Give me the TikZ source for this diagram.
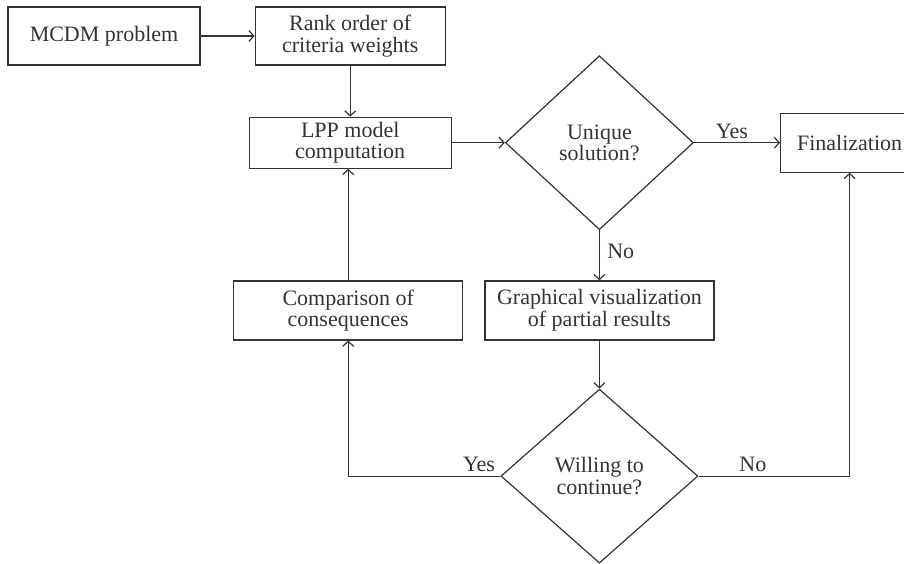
\documentclass[tikz,border=0pt]{standalone}
\usepackage{fontspec}
\setmainfont{Liberation Serif}
\usetikzlibrary{positioning,shapes.geometric,arrows.meta}
\definecolor{traco}{RGB}{51,51,51}
\tikzstyle{caixa} = [rectangle, minimum height=58pt, text centered, align=center, draw=traco, inner sep=0pt]
\tikzstyle{decisao} = [diamond, minimum height=174pt, text centered, align=center, draw=traco, inner sep=0pt]
\tikzstyle{seta} = [draw=traco, ->, >={Straight Barb[length=5pt,width=11pt]}]

\begin{document}
\begin{tikzpicture}[x=1pt, y=1pt, line width=1.2pt, text=traco, font=\fontsize{22}{21.5}\selectfont]
        \useasboundingbox (0,0) rectangle (904,-563);
        % Linha de cima
        \node (mcdm) [caixa, minimum width=192pt] at (104,-36) {MCDM problem};
        \node (rank) [caixa, minimum width=190pt, right=54pt of mcdm] {Rank order of\\criteria weights};
        \node (lpp) [caixa, minimum width=202pt, minimum height=51pt, below=51pt of rank] {LPP model\\computation};
        % Primeira decisão
        \node (unique) [decisao, minimum width=188pt, right=53pt of lpp] {Unique\\solution?};
        \node (final) [caixa, minimum width=138pt, minimum height=59pt, right=86pt of unique] {Finalization};
        % Caixas do meio
        \node (graphical) [caixa, minimum width=229pt, minimum height=59pt, below=50pt of unique] {Graphical visualization\\of partial results};
        \node (comparison) [caixa, minimum width=229pt, minimum height=59pt, left=21pt of graphical] {Comparison of\\consequences};
        % Segunda decisão
        \node (willing) [decisao, minimum width=197pt, below=48pt of graphical] {Willing to\\continue?};
        % Conexões
        \draw [seta] (mcdm) -- (rank);
        \draw [seta] (rank) -- (lpp);
        \draw [seta] (lpp) -- (unique);
        \draw [seta] (unique) -- node[above, pos=0.44] {Yes} (final);
        \draw [seta] (unique) -- node[right, pos=0.43, xshift=4pt] {No} (graphical);
        \draw [seta] (graphical) -- (willing);
        \draw [seta] (willing.west) -| node[above, pos=0.07] {Yes} (comparison.south);
        \draw [seta] (willing.east) -| node[above, pos=0.18] {No} (final.south);
        \draw [seta] (comparison.north) -- (comparison.north |- lpp.south);
    \end{tikzpicture}
\end{document}
